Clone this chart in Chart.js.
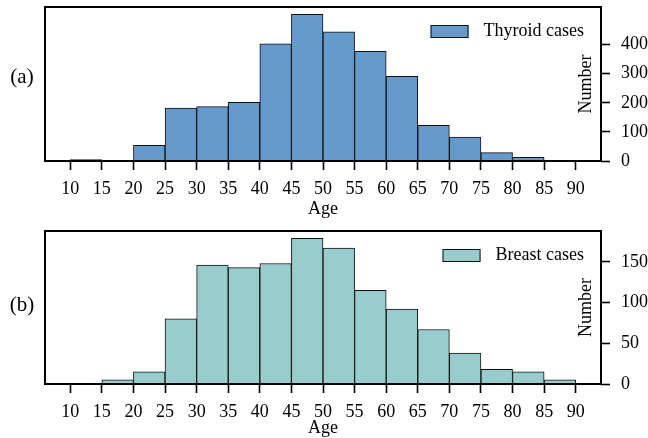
<!DOCTYPE html>
<html>
<head>
<meta charset="utf-8">
<script src="https://cdn.jsdelivr.net/npm/chart.js@4.4.0/dist/chart.umd.min.js"></script>
<style>
  html, body { margin: 0; padding: 0; background: #fff; }
  .panel { position: relative; width: 648px; height: 219px; }
</style>
</head>
<body>
<div class="panel"><canvas id="chartA"></canvas></div>
<div class="panel"><canvas id="chartB"></canvas></div>
<script>
// ---------- data ----------
const binStarts = [10, 15, 20, 25, 30, 35, 40, 45, 50, 55, 60, 65, 70, 75, 80, 85];
const binWidth = 5;
const thyroidCounts = [5, 2, 54, 182, 187, 202, 403, 504, 444, 377, 291, 123, 82, 29, 13, 0];
const breastCounts = [0, 5, 15, 80, 146, 143, 148, 179, 167, 115, 92, 67, 38, 18, 15, 5];
const ageTicks = [10, 15, 20, 25, 30, 35, 40, 45, 50, 55, 60, 65, 70, 75, 80, 85, 90];
const thyroidTicks = [0, 100, 200, 300, 400];
const breastTicks = [0, 50, 100, 150];

const FONT = '"Liberation Serif", "Times New Roman", serif';

// ---------- helpers ----------
const toBins = (counts) => binStarts.map((s, i) => ({ x: s + binWidth / 2, y: counts[i] }));

// draws frame, panel tag, legend and the rotated "Number" label
const decor = {
  id: 'decor',
  afterDraw(chart, args, opts) {
    const { ctx, chartArea: a } = chart;
    ctx.save();
    // frame
    ctx.strokeStyle = '#000';
    ctx.lineWidth = 2;
    ctx.strokeRect(a.left, a.top, a.right - a.left, a.bottom - a.top);

    ctx.fillStyle = '#000';
    // panel tag
    ctx.font = `21px ${FONT}`;
    ctx.textAlign = 'center';
    ctx.textBaseline = 'middle';
    ctx.fillText(opts.tag, 22, opts.tagY);

    // legend
    ctx.font = `18px ${FONT}`;
    const textEnd = a.right - 17;
    const w = ctx.measureText(opts.label).width;
    const textStart = textEnd - w;
    const boxW = 38, boxH = 13;
    const boxX = textStart - 15 - boxW;
    const boxY = a.top + 18;
    ctx.fillStyle = opts.color;
    ctx.fillRect(boxX, boxY, boxW, boxH);
    ctx.lineWidth = 1;
    ctx.strokeStyle = '#111';
    ctx.strokeRect(boxX + 0.5, boxY + 0.5, boxW - 1, boxH - 1);
    ctx.fillStyle = '#000';
    ctx.textAlign = 'left';
    ctx.fillText(opts.label, textStart, boxY + boxH / 2);

    // y label, inside the right spine
    ctx.translate(a.right - 15, (a.top + a.bottom) / 2);
    ctx.rotate(-Math.PI / 2);
    ctx.textAlign = 'center';
    ctx.fillText('Number', 0, 0);
    ctx.restore();
  }
};

const makeHist = (id, counts, color, label, yTicks, tag, tagY, padTop, xHeight) => {
  const yMax = Math.max(...counts) * 1.05;
  return new Chart(document.getElementById(id), {
    type: 'bar',
    data: {
      datasets: [{
        label,
        data: toBins(counts),
        backgroundColor: color,
        borderColor: '#111',
        borderWidth: 1,
        barPercentage: 1,
        categoryPercentage: 1
      }]
    },
    options: {
      responsive: true,
      maintainAspectRatio: false,
      animation: false,
      layout: { padding: { left: 45, top: padTop, right: 0, bottom: 0 } },
      plugins: {
        legend: { display: false },
        tooltip: { enabled: false },
        decor: { tag, tagY, label, color }
      },
      scales: {
        x: {
          type: 'linear',
          offset: false,
          min: 6,
          max: 94,
          border: { display: false },
          grid: { display: true, offset: false, drawOnChartArea: false, drawTicks: true, tickLength: 9, tickColor: '#000', tickWidth: 1.6 },
          ticks: { color: '#000', font: { family: FONT, size: 18 }, padding: 8, maxRotation: 0, autoSkip: false },
          afterBuildTicks: (s) => { s.ticks = ageTicks.map(v => ({ value: v })); },
          afterFit: (s) => { s.height = xHeight; s.paddingLeft = 0; s.paddingRight = 0; },
          title: { display: true, text: 'Age', color: '#000', font: { family: FONT, size: 18, lineHeight: 1.1 }, padding: 0 }
        },
        y: {
          position: 'right',
          min: 0,
          max: yMax,
          border: { display: false },
          grid: { display: true, drawOnChartArea: false, drawTicks: true, tickLength: 9, tickColor: '#000', tickWidth: 1.6 },
          ticks: { color: '#000', font: { family: FONT, size: 18 }, padding: 11 },
          afterBuildTicks: (s) => { s.ticks = yTicks.map(v => ({ value: v })); },
          afterFit: (s) => { s.width = 47; s.paddingTop = 0; s.paddingBottom = 0; }
        }
      }
    },
    plugins: [decor]
  });
};

makeHist('chartA', thyroidCounts, '#6699cc', 'Thyroid cases', thyroidTicks, '(a)', 77, 7, 58);
makeHist('chartB', breastCounts, '#99cccc', 'Breast cases', breastTicks, '(b)', 86, 12, 54);
</script>
</body>
</html>
